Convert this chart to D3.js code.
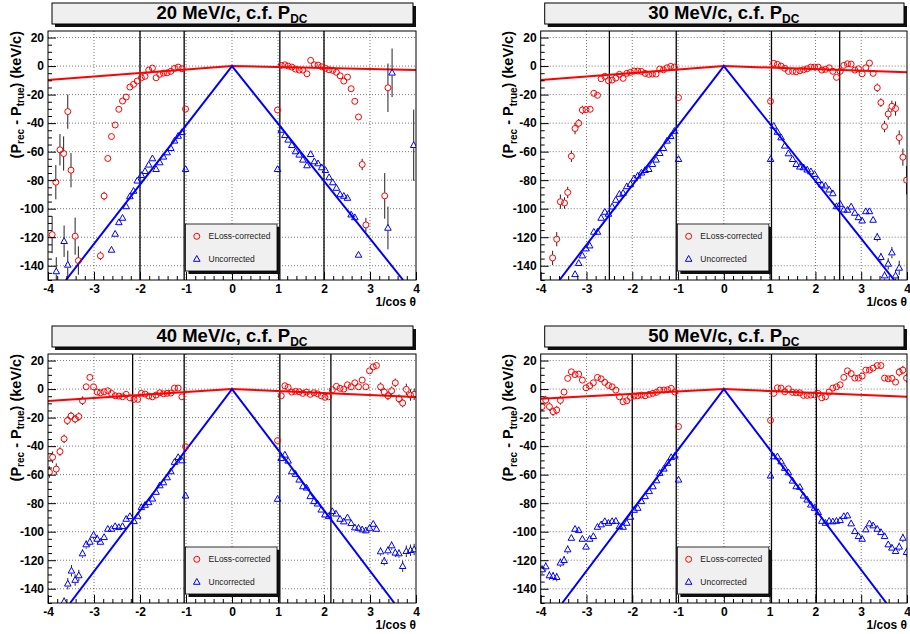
<!DOCTYPE html>
<html><head><meta charset="utf-8">
<script src="https://cdn.jsdelivr.net/npm/d3@7"></script>
<style>
body{margin:0;background:#fff}
svg{display:block}
text{font-family:"Liberation Sans",Arial,Helvetica,sans-serif}
</style>
</head><body><svg id="c" width="910" height="634"></svg>
<script>
// ---------- DATA: [1/cos theta, Prec-Ptrue (keV/c), error] ----------
const momenta = ["20", "30", "40", "50"];
const xTickValues = [-4, -3, -2, -1, 0, 1, 2, 3, 4];
const yTickValues = [-140, -120, -100, -80, -60, -40, -20, 0, 20];
const legendLabels = ["ELoss-corrected", "Uncorrected"];

const red20 = [
[-3.91,-118.2,13],[-3.83,-81.4,12],[-3.74,-58.7,11],[-3.66,-61.3,12],[-3.57,-31.9,12],[-3.50,-73,12],[-3.41,-119.3,13],[-3.34,-136.4,10],
[-2.86,-133,3],[-2.78,-91.1,3],[-2.70,-64.8,1],[-2.62,-49.4,1],[-2.54,-41.3,1],[-2.46,-30.3,1],[-2.38,-24.5,1],[-2.30,-21.7,1],[-2.22,-14.7,1],[-2.14,-12.8,1],[-2.06,-10.5,1],[-1.97,-8.2,1],[-1.89,-7.2,1],[-1.81,-2.8,1],[-1.73,-1.4,1],[-1.65,-8.2,1],[-1.57,-5.8,1],[-1.49,-4.9,1],[-1.41,-4.7,1],[-1.33,-3.7,1],[-1.25,-1.6,1],[-1.17,-0.7,1],[-1.09,-1.9,1],[-1.01,-30.1,1],
[0.99,-30.8,1],[1.07,0.5,1],[1.15,0.9,1],[1.22,0,1],[1.30,-0.7,1],[1.38,-2.1,1],[1.46,-2.8,1],[1.54,-2.8,1],[1.63,-5.4,1],[1.71,4,1],[1.79,0.9,1],[1.87,0.7,1],[1.95,-0.5,1],[2.03,-1.6,1],[2.11,-2.6,1],[2.19,-3,1],[2.27,-4.4,1],[2.35,-6.8,1],[2.43,-10.5,1],[2.51,-7.7,1],[2.59,-15.9,1],[2.67,-24.7,1],[2.75,-35.7,2],[2.83,-69,4],[2.91,-111.4,5],[3.32,-91,16],[3.39,-15.2,17]
];
const blue20 = [
[-3.82,-144,10],[-3.65,-122.8,11],[-3.57,-139.4,10],
[-2.62,-128.9,1],[-2.54,-117.7,1],[-2.46,-109.6,1],[-2.38,-106.5,1],[-2.30,-98.4,1],[-2.22,-91.4,1],[-2.14,-87.6,1],[-2.06,-80.4,1],[-1.97,-76.5,1],[-1.89,-73.7,1],[-1.81,-69.2,1],[-1.73,-64.8,1],[-1.65,-72.3,1],[-1.57,-67.6,1],[-1.49,-63.6,1],[-1.41,-60.6,1],[-1.33,-57.6,1],[-1.25,-52.4,1],[-1.17,-49,1],[-1.09,-46.4,1],[-1.01,-72.3,1],
[0.99,-72.3,1],[1.07,-44.8,1],[1.15,-48.5,1],[1.22,-51.7,1],[1.30,-55.5,1],[1.38,-59.9,1],[1.46,-62.2,1],[1.54,-65.7,1],[1.63,-69.7,1],[1.71,-61.8,1],[1.79,-66.9,1],[1.87,-68.3,1],[1.95,-71.1,1],[2.03,-73,1],[2.11,-78.1,1],[2.19,-81.6,1],[2.27,-85.5,1],[2.35,-90,1],[2.43,-91.1,1],[2.51,-92.5,1],[2.59,-104.2,1],[2.67,-106.1,1],[2.75,-132.4,1],[3.39,-113.5,15],[3.48,-4.7,17],[3.95,-55.5,25]
];
const red30 = [
[-3.74,-134.5,5],[-3.65,-121.4,5],[-3.57,-95.1,5],[-3.48,-96,4],[-3.41,-88.6,4],[-3.33,-63.2,4],[-3.25,-43.8,4],[-3.17,-40.1,3],[-3.09,-30.8,3],[-3.01,-30.5,2],[-2.92,-30.3,2],[-2.84,-19.1,2],[-2.76,-20.5,2],[-2.68,-8.9,2],[-2.60,-7.2,1],[-2.52,-10.3,1],[-2.44,-9.8,1],[-2.36,-8.4,1],[-2.28,-5.8,1],[-2.20,-8.6,1],[-2.12,-5.1,1],[-2.04,-4.4,1],[-1.96,-3.5,1],[-1.88,-3.5,1],[-1.80,-3.7,1],[-1.72,-5.1,1],[-1.64,-5.8,1],[-1.56,-5.6,1],[-1.48,-5.6,1],[-1.40,-2.1,1],[-1.32,-2.6,1],[-1.24,-1.2,1],[-1.16,-0.2,1],[-1.08,-0.7,1],[-0.99,-22.1,1],
[1.02,-24.7,1],[1.09,1.9,1],[1.17,1.2,1],[1.25,0,1],[1.33,-1.6,1],[1.41,-3.7,1],[1.50,-3.7,1],[1.58,-4,1],[1.66,-3.3,1],[1.74,-2.6,1],[1.82,-1.9,1],[1.90,-0.7,1],[1.98,-0.7,1],[2.06,-0.7,1],[2.14,-2.8,1],[2.22,-2.3,1],[2.30,-1.2,1],[2.38,-3.7,1],[2.46,-7.9,1],[2.54,-3.7,1],[2.62,0.5,1],[2.70,1.6,1],[2.78,1.4,1],[2.86,-2.8,1],[2.94,-1.9,1],[3.02,-5.4,1],[3.10,-1.2,1],[3.18,2.1,1],[3.26,-5.1,1],[3.35,-15.2,3],[3.43,-25.6,3],[3.51,-42.4,4],[3.59,-33.6,4],[3.67,-28.2,4],[3.75,-29.8,5],[3.83,-50.1,5],[3.91,-63.9,6],[3.99,-80,10]
];
const blue30 = [
[-3.25,-146,1],[-3.17,-138.2,2],[-3.09,-132.9,1],[-3.01,-128,1],[-2.93,-125.9,1],[-2.84,-116.3,1],[-2.76,-116.3,1],[-2.68,-106.5,1],[-2.60,-102.3,1],[-2.52,-103.7,1],[-2.44,-98.6,1],[-2.36,-93.9,1],[-2.28,-89.7,1],[-2.20,-89,1],[-2.12,-84.4,1],[-2.04,-82.8,1],[-1.96,-78.8,1],[-1.88,-76.9,1],[-1.80,-74.8,1],[-1.72,-73,1],[-1.64,-72.3,1],[-1.56,-68.8,1],[-1.48,-65.7,1],[-1.40,-61.1,1],[-1.32,-57.6,1],[-1.24,-52.4,1],[-1.16,-49.2,1],[-1.08,-45.5,1],[-0.99,-65.3,1],
[1.02,-65.3,1],[1.09,-42,1],[1.17,-46.2,1],[1.25,-50.1,1],[1.33,-55.9,1],[1.41,-61.3,1],[1.50,-65.3,1],[1.58,-68.8,1],[1.66,-70.6,1],[1.74,-71.1,1],[1.82,-72.7,1],[1.90,-73.9,1],[1.98,-75.8,1],[2.06,-80,1],[2.14,-83.2,1],[2.22,-83.9,1],[2.30,-86.7,1],[2.38,-89.3,1],[2.46,-98.4,1],[2.54,-96.7,1],[2.62,-100.7,1],[2.70,-100.9,1],[2.78,-98.6,1],[2.86,-103,1],[2.94,-106.1,1],[3.02,-108.4,1],[3.10,-101.9,1],[3.18,-101.9,1],[3.26,-107.9,1],[3.35,-120,3],[3.43,-134,3],[3.51,-146.9,3],[3.59,-138.7,4],[3.67,-130.8,4],[3.75,-146.9,4],[3.83,-141.5,5]
];
const red40 = [
[-3.97,-58.2,4],[-3.90,-47.8,4],[-3.82,-56.1,4],[-3.74,-43.8,3],[-3.65,-34.9,3],[-3.58,-22.1,3],[-3.50,-18.9,3],[-3.41,-21,3],[-3.33,-19.3,3],[-3.25,-8.2,3],[-3.17,1.6,2],[-3.09,8.2,2],[-3.01,1.6,2],[-2.93,-2.1,2],[-2.86,-2.6,2],[-2.78,-1.9,2],[-2.70,-1.2,2],[-2.62,-3,2],[-2.54,-4.7,2],[-2.46,-4.9,2],[-2.38,-5.4,2],[-2.30,-3.7,2],[-2.22,-6.1,2],[-2.13,-7.2,2],[-2.05,-7.2,2],[-1.97,-3,2],[-1.89,-3.5,2],[-1.81,-4.9,2],[-1.73,-5.4,2],[-1.65,-4.2,2],[-1.57,-2.6,2],[-1.49,-3.3,2],[-1.41,-3,2],[-1.33,-2.8,2],[-1.25,0.7,2],[-1.17,0.7,2],[-1.09,-5.4,2],[-1.01,-40.3,2],
[0.99,-36.1,2],[1.07,-4.7,2],[1.15,2.3,2],[1.22,1.2,2],[1.30,-2.1,2],[1.38,-1.6,2],[1.46,-1.9,2],[1.54,-3,2],[1.62,-2.1,2],[1.70,-3.7,2],[1.78,-2.6,2],[1.86,-3.3,2],[1.94,-4.7,2],[2.02,-5.8,2],[2.10,-5.4,2],[2.18,-0.5,2],[2.27,1.9,2],[2.35,0.5,2],[2.43,0,2],[2.51,3,2],[2.59,1.6,2],[2.67,4.4,2],[2.75,1.6,2],[2.83,6.3,2],[2.91,1.6,2],[2.99,12.8,2],[3.07,15.6,2],[3.14,16.5,2],[3.23,1.6,3],[3.31,-2.1,3],[3.39,-4.7,3],[3.47,-1.2,3],[3.55,4.4,3],[3.63,-6.8,3],[3.71,-9.8,3],[3.79,-0.2,4],[3.88,-4.2,4],[3.96,-3.7,4]
];
const blue40 = [
[-3.65,-149,3],[-3.57,-136.5,4],[-3.49,-127.4,4],[-3.41,-133.9,4],[-3.33,-130.7,4],[-3.25,-115.3,3],[-3.17,-109,3],[-3.09,-107.2,3],[-3.01,-102.3,3],[-2.93,-105.1,3],[-2.86,-107.2,2],[-2.78,-103.9,2],[-2.70,-98.1,2],[-2.62,-98.1,2],[-2.54,-96.2,2],[-2.46,-96.9,2],[-2.38,-96.2,2],[-2.30,-91.1,2],[-2.22,-89.2,2],[-2.13,-92.7,2],[-2.05,-89,2],[-1.97,-82.9,2],[-1.89,-81.3,2],[-1.81,-79.4,2],[-1.73,-76.9,2],[-1.65,-72.2,2],[-1.57,-67.6,2],[-1.49,-65.5,2],[-1.41,-62,2],[-1.33,-57.8,2],[-1.25,-51.2,2],[-1.17,-47.8,2],[-1.09,-50.1,2],[-1.01,-74.8,2],
[0.99,-77.1,2],[1.07,-48.5,2],[1.15,-46.1,2],[1.22,-50.3,2],[1.30,-57.8,2],[1.38,-59.6,2],[1.46,-63.6,2],[1.54,-68.3,2],[1.62,-69.2,2],[1.70,-75.2,2],[1.78,-78.7,2],[1.86,-80.4,2],[1.94,-84.6,2],[2.02,-88.1,2],[2.10,-89.2,2],[2.18,-85.7,2],[2.26,-87.4,2],[2.35,-91.1,2],[2.43,-92.9,2],[2.51,-90.1,2],[2.59,-94.1,2],[2.67,-97.1,2],[2.75,-97.4,2],[2.83,-98.5,2],[2.91,-99.2,2],[2.99,-97.4,2],[3.07,-94.6,2],[3.14,-98.1,2],[3.23,-113.9,3],[3.31,-120.7,3],[3.39,-113.2,3],[3.47,-109.7,3],[3.55,-114.8,3],[3.63,-115.3,3],[3.71,-124.2,4],[3.79,-113.7,4],[3.88,-113,4],[3.96,-112.5,4]
];
const red50 = [
[-3.97,-12.3,3],[-3.89,-7.7,3],[-3.81,-12.3,3],[-3.73,-15.8,3],[-3.65,-14.7,3],[-3.57,-7.9,3],[-3.49,-2.1,2],[-3.41,7.5,2],[-3.33,12.1,2],[-3.25,10.2,2],[-3.17,10.5,2],[-3.09,6.3,2],[-3.01,0.9,2],[-2.93,2.3,2],[-2.85,4.4,2],[-2.76,8.2,2],[-2.68,7.2,2],[-2.60,4.7,2],[-2.52,2.6,2],[-2.44,1.6,2],[-2.36,-0.7,2],[-2.28,-5.4,2],[-2.20,-8.9,2],[-2.12,-8.2,2],[-2.04,-5.8,2],[-1.96,-4.9,2],[-1.88,-4.7,2],[-1.80,-4.2,2],[-1.72,-4.7,2],[-1.63,-3.7,2],[-1.55,-3,2],[-1.47,-2.3,2],[-1.40,-0.7,2],[-1.31,-0.7,2],[-1.23,-0.5,2],[-1.15,0.5,2],[-1.07,-2.1,2],[-0.99,-26.3,2],
[1.02,-21.9,2],[1.09,-3,2],[1.17,0.9,2],[1.25,0.7,2],[1.33,-1.9,2],[1.41,0.2,2],[1.50,-2.3,2],[1.58,-2.6,2],[1.66,-2.6,2],[1.74,-4.4,2],[1.82,-4.4,2],[1.90,-4.2,2],[1.98,-4,2],[2.06,-3,2],[2.14,-6.1,2],[2.22,-5.4,2],[2.30,-2.1,2],[2.38,0.7,2],[2.46,1.6,2],[2.54,3,2],[2.62,8.2,2],[2.70,12.8,2],[2.78,10.9,2],[2.86,7.7,2],[2.94,7.7,2],[3.02,9.1,2],[3.10,13.3,2],[3.18,13.3,2],[3.26,14.7,2],[3.35,16.5,2],[3.43,16.5,2],[3.51,7.7,2],[3.59,7.2,2],[3.67,7.5,2],[3.75,4.9,2],[3.83,11.9,3],[3.91,13.3,3],[3.99,7.7,3]
];
const blue50 = [
[-3.97,-126.5,3],[-3.89,-124.4,3],[-3.81,-130.7,3],[-3.73,-131.2,3],[-3.65,-131.9,3],[-3.57,-121.8,3],[-3.49,-120,3],[-3.41,-112.5,3],[-3.33,-104.4,2],[-3.25,-98.1,2],[-3.17,-99,2],[-3.09,-105.1,2],[-3.01,-110.6,2],[-2.93,-105.1,2],[-2.85,-103.2,2],[-2.76,-96.7,2],[-2.68,-95,2],[-2.60,-92.7,2],[-2.52,-93.9,2],[-2.44,-92.7,2],[-2.36,-92.5,2],[-2.28,-96.2,2],[-2.20,-96.7,2],[-2.12,-93.9,2],[-2.04,-89.7,2],[-1.96,-84.8,2],[-1.88,-83.4,2],[-1.80,-78.7,2],[-1.72,-75.2,2],[-1.63,-71.7,2],[-1.55,-68.3,2],[-1.47,-64.1,2],[-1.40,-58.9,2],[-1.31,-55.9,2],[-1.23,-51.9,2],[-1.15,-47.8,2],[-1.07,-46.8,2],[-0.99,-63.6,2],
[1.02,-60.8,2],[1.09,-47.3,2],[1.17,-47.3,2],[1.25,-50.8,2],[1.33,-55.4,2],[1.41,-58.5,2],[1.50,-64.3,2],[1.58,-68.3,2],[1.66,-68.7,2],[1.74,-74.8,2],[1.82,-77.6,2],[1.90,-81.1,2],[1.98,-83.4,2],[2.06,-86.4,2],[2.14,-92.5,2],[2.22,-93.9,2],[2.30,-92.5,2],[2.38,-92.9,2],[2.46,-92.5,2],[2.54,-92,2],[2.62,-89.2,2],[2.70,-88.7,2],[2.78,-94.3,2],[2.86,-99.7,2],[2.94,-103.2,2],[3.02,-105.1,2],[3.10,-98.5,2],[3.18,-94.3,2],[3.26,-95.7,2],[3.35,-98.1,2],[3.43,-100.4,2],[3.51,-103.2,2],[3.59,-109,2],[3.67,-111.3,2],[3.75,-113.7,2],[3.83,-110.6,3],[3.91,-104.4,3],[3.99,-114.4,3]
];

// fit lines (endpoints) and cut positions
const redFits = [
  [[-4,-9.8],[0,0],[4,-2.7]],
  [[-4,-9.8],[0,0],[4,-4.3]],
  [[-4,-8.3],[0,0],[4,-5.6]],
  [[-4,-6.8],[0,0],[4,-5.4]]
];
const blueFits = [
  [[-3.61,-150],[0,0],[3.72,-150]],
  [[-3.59,-150],[0,0],[3.72,-150]],
  [[-3.52,-150],[0,0],[3.53,-150]],
  [[-3.53,-150],[0,0],[3.55,-150]]
];
const cuts = [
  [-2, -1.04, 1.04, 2],
  [-2.5, -1.04, 1.04, 2.53],
  [-2.16, -1.04, 1.04, 2.15],
  [-2, -1.04, 1.04, 2.02]
];
const redData = [red20, red30, red40, red50];
const blueData = [blue20, blue30, blue40, blue50];

// ---------- DRAWING ----------
const svg = d3.select("#c");
svg.append("rect").attr("width",910).attr("height",634).attr("fill","#fff");
const layout = [
  {l:48, r:416, t:31, b:280},
  {l:540.7, r:907, t:31, b:280},
  {l:48, r:416, t:354, b:603},
  {l:540.7, r:907, t:354, b:603}
];
const RED = "#ff0000", BLUE = "#0000ff";
const triPath = "M0,-3.5L3.3,2.3L-3.3,2.3Z";

momenta.forEach((m, i) => {
  const L = layout[i];
  const x = d3.scaleLinear().domain([-4, 4]).range([L.l, L.r]);
  const y = d3.scaleLinear().domain([-150, 24.6]).range([L.b, L.t]);
  const g = svg.append("g");
  const clipId = "clip" + i;
  svg.append("clipPath").attr("id", clipId).append("rect")
    .attr("x", L.l).attr("y", L.t).attr("width", L.r - L.l).attr("height", L.b - L.t);

  // grid
  const grid = g.append("g").attr("stroke", "#555").attr("stroke-width", 0.8).attr("stroke-dasharray", "1,2");
  xTickValues.slice(1, -1).forEach(v => grid.append("line")
    .attr("x1", x(v)).attr("x2", x(v)).attr("y1", L.t).attr("y2", L.b));
  yTickValues.forEach(v => grid.append("line")
    .attr("x1", L.l).attr("x2", L.r).attr("y1", y(v)).attr("y2", y(v)));

  // cut lines
  cuts[i].forEach(c => g.append("line")
    .attr("x1", x(c)).attr("x2", x(c)).attr("y1", L.t).attr("y2", L.b)
    .attr("stroke", "#000").attr("stroke-width", 1.3));

  const plot = g.append("g").attr("clip-path", `url(#${clipId})`);
  const line = d3.line().x(d => x(d[0])).y(d => y(d[1]));
  plot.append("path").attr("d", line(redFits[i])).attr("fill", "none")
    .attr("stroke", RED).attr("stroke-width", 2);
  plot.append("path").attr("d", line(blueFits[i])).attr("fill", "none")
    .attr("stroke", BLUE).attr("stroke-width", 2);

  // error bars
  const drawErr = (data, gap) => {
    data.forEach(d => {
      const yc = y(d[1]), yt = y(d[1] + d[2]), yb = y(d[1] - d[2]);
      if (yc - yt > gap) plot.append("line").attr("x1", x(d[0])).attr("x2", x(d[0]))
        .attr("y1", yt).attr("y2", yc - gap).attr("stroke", "#222").attr("stroke-width", 1);
      if (yb - yc > gap) plot.append("line").attr("x1", x(d[0])).attr("x2", x(d[0]))
        .attr("y1", yc + gap).attr("y2", yb).attr("stroke", "#222").attr("stroke-width", 1);
    });
  };
  drawErr(redData[i], 3);
  drawErr(blueData[i], 3);

  plot.append("g").selectAll("path").data(blueData[i]).join("path")
    .attr("d", triPath).attr("transform", d => `translate(${x(d[0])},${y(d[1])})`)
    .attr("fill", "none").attr("stroke", BLUE).attr("stroke-width", 1);
  plot.append("g").selectAll("circle").data(redData[i]).join("circle")
    .attr("cx", d => x(d[0])).attr("cy", d => y(d[1])).attr("r", 3)
    .attr("fill", "none").attr("stroke", RED).attr("stroke-width", 1);

  // frame
  g.append("rect").attr("x", L.l).attr("y", L.t).attr("width", L.r - L.l).attr("height", L.b - L.t)
    .attr("fill", "none").attr("stroke", "#000").attr("stroke-width", 1);

  // axes
  const yAx = g.append("g").attr("transform", `translate(${L.l},0)`)
    .call(d3.axisLeft(y).tickValues(yTickValues).tickSize(-8).tickPadding(4).tickFormat(d => String(d)));
  const yMin = g.append("g").attr("transform", `translate(${L.l},0)`)
    .call(d3.axisLeft(y).tickValues(d3.range(-150, 25, 5).filter(v => v % 20 !== 0)).tickSize(-4).tickFormat(""));
  const xAx = g.append("g").attr("transform", `translate(0,${L.b})`)
    .call(d3.axisBottom(x).tickValues(xTickValues).tickSize(-8).tickPadding(4).tickFormat(d => String(d)));
  const xMin = g.append("g").attr("transform", `translate(0,${L.b})`)
    .call(d3.axisBottom(x).tickValues(d3.range(-20, 21).map(k => k / 5).filter(v => Math.abs(v - Math.round(v)) > 1e-6)).tickSize(-4).tickFormat(""));
  [yAx, yMin, xAx, xMin].forEach(a => {
    a.select(".domain").remove();
    a.selectAll("line").attr("stroke", "#000");
    a.selectAll("text").attr("font-size", 12).attr("font-weight", "bold")
      .attr("font-family", '"Liberation Sans",Arial,sans-serif').attr("fill", "#000");
  });

  // axis titles
  g.append("text").attr("x", L.r).attr("y", L.b + 26).attr("text-anchor", "end")
    .attr("font-size", 12).attr("font-weight", "bold").text("1/cos \u03b8");
  const yt = g.append("text").attr("transform", `translate(${L.l - 27.5},${L.t}) rotate(-90)`)
    .attr("text-anchor", "end").attr("font-size", 14.5).attr("font-weight", "bold");
  yt.append("tspan").text("(P");
  yt.append("tspan").attr("font-size", 10).attr("dy", 3.5).text("rec");
  yt.append("tspan").attr("dy", -3.5).text(" - P");
  yt.append("tspan").attr("font-size", 10).attr("dy", 3.5).text("true");
  yt.append("tspan").attr("dy", -3.5).text(") (keV/c)");

  // title box
  const tx = L.l + 4, tw = (L.r - L.l) - 7, ty = L.t - 28, th = 21;
  g.append("rect").attr("x", tx + 3).attr("y", ty + 3).attr("width", tw).attr("height", th).attr("fill", "#111");
  g.append("rect").attr("x", tx).attr("y", ty).attr("width", tw).attr("height", th)
    .attr("fill", "#efefef").attr("stroke", "#000").attr("stroke-width", 1);
  const tt = g.append("text").attr("x", x(0)).attr("y", L.t - 12.5).attr("text-anchor", "middle")
    .attr("font-size", 18.5).attr("font-weight", "bold");
  tt.append("tspan").text(`${m} MeV/c, c.f. P`);
  tt.append("tspan").attr("font-size", 12).attr("dy", 4).text("DC");

  // legend
  const lx = x(0) - 46.5, ly = L.t + 193, lw = 91.5, lh = 47;
  g.append("rect").attr("x", lx + 3).attr("y", ly + 3).attr("width", lw).attr("height", lh).attr("fill", "#111");
  g.append("rect").attr("x", lx).attr("y", ly).attr("width", lw).attr("height", lh)
    .attr("fill", "#f0f0f0").attr("stroke", "#000").attr("stroke-width", 0.8);
  g.append("circle").attr("cx", lx + 11.3).attr("cy", ly + 12.3).attr("r", 3)
    .attr("fill", "none").attr("stroke", RED).attr("stroke-width", 1);
  g.append("path").attr("d", triPath).attr("transform", `translate(${lx + 11.3},${ly + 35})`)
    .attr("fill", "none").attr("stroke", BLUE).attr("stroke-width", 1);
  g.append("text").attr("x", lx + 23).attr("y", ly + 15.3).attr("font-size", 8.5).attr("fill", "#222").text(legendLabels[0]);
  g.append("text").attr("x", lx + 23).attr("y", ly + 38).attr("font-size", 8.5).attr("fill", "#222").text(legendLabels[1]);
});
</script>
</body></html>
